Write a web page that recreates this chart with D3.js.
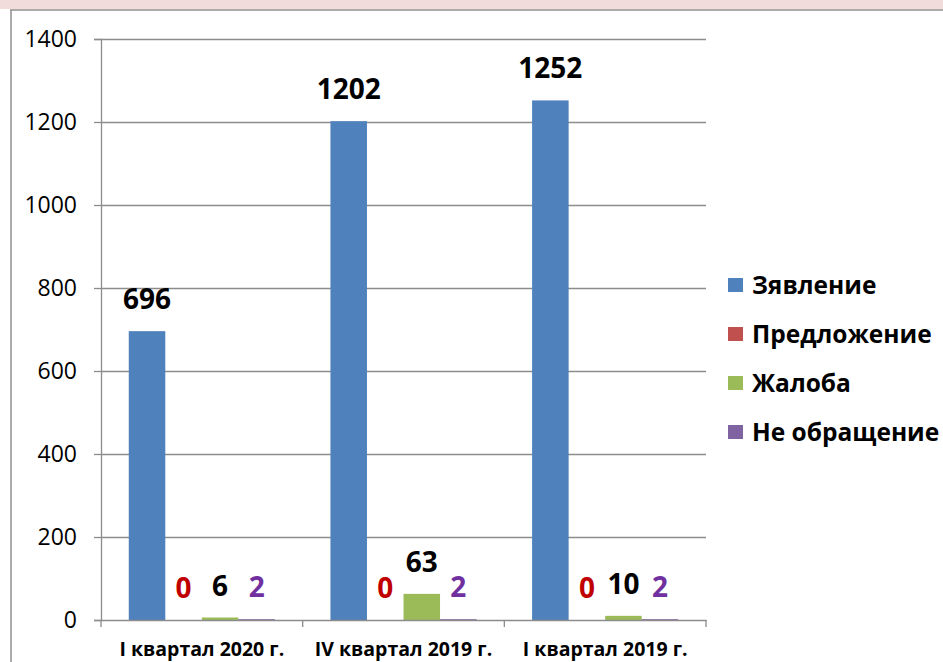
<!DOCTYPE html>
<html>
<head>
<meta charset="utf-8">
<script src="https://cdn.jsdelivr.net/npm/d3@7"></script>
<style>
    body { margin: 0; background: #fff; }
    svg { display: block; font-family: 'Open Sans', sans-serif; }
</style>
</head>
<body>
<div id="chart"></div>
<script>
// Chart data.
var categories = ['I квартал 2020 г.', 'IV квартал 2019 г.', 'I квартал 2019 г.'];
var seriesNames = ['Зявление', 'Предложение', 'Жалоба', 'Не обращение'];
var zayavlenie = [696, 1202, 1252];
var predlozhenie = [0, 0, 0];
var zhaloba = [6, 63, 10];
var neObrashchenie = [2, 2, 2];
var yTicks = [0, 200, 400, 600, 800, 1000, 1200, 1400];

var seriesValues = [zayavlenie, predlozhenie, zhaloba, neObrashchenie];
var barColors = ['#4f81bd', '#c0504d', '#9bbb59', '#8064a2'];
var labelColors = ['#000000', '#c00000', '#000000', '#7030a0'];

var width = 943,
    height = 662,
    plot = { left: 101, right: 706, top: 39, bottom: 620 };

var svg = d3.select( '#chart' )
    .append( 'svg' )
    .attr( 'width', width )
    .attr( 'height', height );

// Pink band and frame at the top / left.
svg.append( 'rect' )
    .attr( 'x', 0 ).attr( 'y', 0 )
    .attr( 'width', width ).attr( 'height', 9 )
    .attr( 'fill', '#f2dcdb' );
svg.append( 'line' )
    .attr( 'x1', 10 ).attr( 'x2', width )
    .attr( 'y1', 10 ).attr( 'y2', 10 )
    .attr( 'stroke', '#8f8f8f' ).attr( 'stroke-width', 1.5 );
svg.append( 'line' )
    .attr( 'x1', 11 ).attr( 'x2', 11 )
    .attr( 'y1', 10 ).attr( 'y2', height )
    .attr( 'stroke', '#8f8f8f' ).attr( 'stroke-width', 1.5 );

var y = d3.scaleLinear()
    .domain( [0, 1400] )
    .range( [plot.bottom, plot.top] );

var x0 = d3.scaleBand()
    .domain( categories )
    .range( [plot.left, plot.right] )
    .paddingInner( 0 );

var x1 = d3.scaleBand()
    .domain( d3.range( seriesNames.length ) )
    .range( [0, x0.bandwidth()] )
    .paddingInner( 0 )
    .paddingOuter( 0.76 );

// Gridlines.
svg.append( 'g' )
    .selectAll( 'line' )
    .data( yTicks.filter( d => d > 0 ) )
    .join( 'line' )
        .attr( 'x1', plot.left )
        .attr( 'x2', plot.right )
        .attr( 'y1', d => Math.round( y( d ) ) + 0.5 )
        .attr( 'y2', d => Math.round( y( d ) ) + 0.5 )
        .attr( 'stroke', '#8c8c8c' )
        .attr( 'stroke-width', 1.3 );

// Bars.
var groups = svg.append( 'g' )
    .selectAll( 'g' )
    .data( categories )
    .join( 'g' )
        .attr( 'transform', d => 'translate(' + x0( d ) + ',0)' );

groups.selectAll( 'rect' )
    .data( ( d, ci ) => seriesValues.map( ( vals, si ) => ( { s: si, v: vals[ci] } ) ) )
    .join( 'rect' )
        .attr( 'x', d => x1( d.s ) )
        .attr( 'y', d => y( d.v ) )
        .attr( 'width', x1.bandwidth() )
        .attr( 'height', d => y( 0 ) - y( d.v ) )
        .attr( 'fill', d => barColors[d.s] );

// Value labels.
groups.selectAll( 'text' )
    .data( ( d, ci ) => seriesValues.map( ( vals, si ) => ( { s: si, v: vals[ci] } ) ) )
    .join( 'text' )
        .attr( 'x', d => x1( d.s ) + x1.bandwidth() / 2 )
        .attr( 'y', d => y( d.v ) - 22 )
        .attr( 'text-anchor', 'middle' )
        .attr( 'font-size', '28px' )
        .attr( 'font-weight', 'bold' )
        .attr( 'fill', d => labelColors[d.s] )
        .text( d => d.v );

// Y axis.
var yAxis = svg.append( 'g' )
    .attr( 'transform', 'translate(' + plot.left + ',0)' )
    .call( d3.axisLeft( y )
        .tickValues( yTicks )
        .tickFormat( d3.format( 'd' ) )
        .tickSize( 7 )
        .tickPadding( 17 ) );
yAxis.select( '.domain' ).attr( 'stroke', '#8c8c8c' ).attr( 'stroke-width', 1.3 );
yAxis.selectAll( '.tick line' ).attr( 'stroke', '#8c8c8c' ).attr( 'stroke-width', 1.3 );
yAxis.selectAll( '.tick text' )
    .attr( 'font-size', '23px' )
    .attr( 'font-family', "'Open Sans', sans-serif" )
    .attr( 'fill', '#000' );

// X axis.
var xAxis = svg.append( 'g' )
    .attr( 'transform', 'translate(0,' + plot.bottom + ')' )
    .call( d3.axisBottom( x0 ).tickSize( 0 ).tickPadding( 22 ) );
xAxis.select( '.domain' ).attr( 'stroke', '#8c8c8c' ).attr( 'stroke-width', 1.3 );
xAxis.selectAll( '.tick text' )
    .attr( 'font-size', '19.5px' )
    .attr( 'font-weight', 'bold' )
    .attr( 'font-family', "'Open Sans', sans-serif" )
    .attr( 'fill', '#000' );
xAxis.append( 'g' )
    .selectAll( 'line' )
    .data( d3.range( categories.length + 1 ) )
    .join( 'line' )
        .attr( 'x1', i => plot.left + i * x0.step() )
        .attr( 'x2', i => plot.left + i * x0.step() )
        .attr( 'y1', 0 )
        .attr( 'y2', 7 )
        .attr( 'stroke', '#8c8c8c' )
        .attr( 'stroke-width', 1.3 );

// Legend.
var legend = svg.append( 'g' )
    .selectAll( 'g' )
    .data( seriesNames )
    .join( 'g' )
        .attr( 'transform', ( d, i ) => 'translate(728,' + ( 285 + i * 49 ) + ')' );
legend.append( 'rect' )
    .attr( 'x', 0 ).attr( 'y', -7 )
    .attr( 'width', 15 ).attr( 'height', 14 )
    .attr( 'fill', ( d, i ) => barColors[i] );
legend.append( 'text' )
    .attr( 'x', 24 )
    .attr( 'y', 0 )
    .attr( 'dy', '0.35em' )
    .attr( 'font-size', '24.5px' )
    .attr( 'font-weight', 'bold' )
    .text( d => d );
</script>
</body>
</html>
